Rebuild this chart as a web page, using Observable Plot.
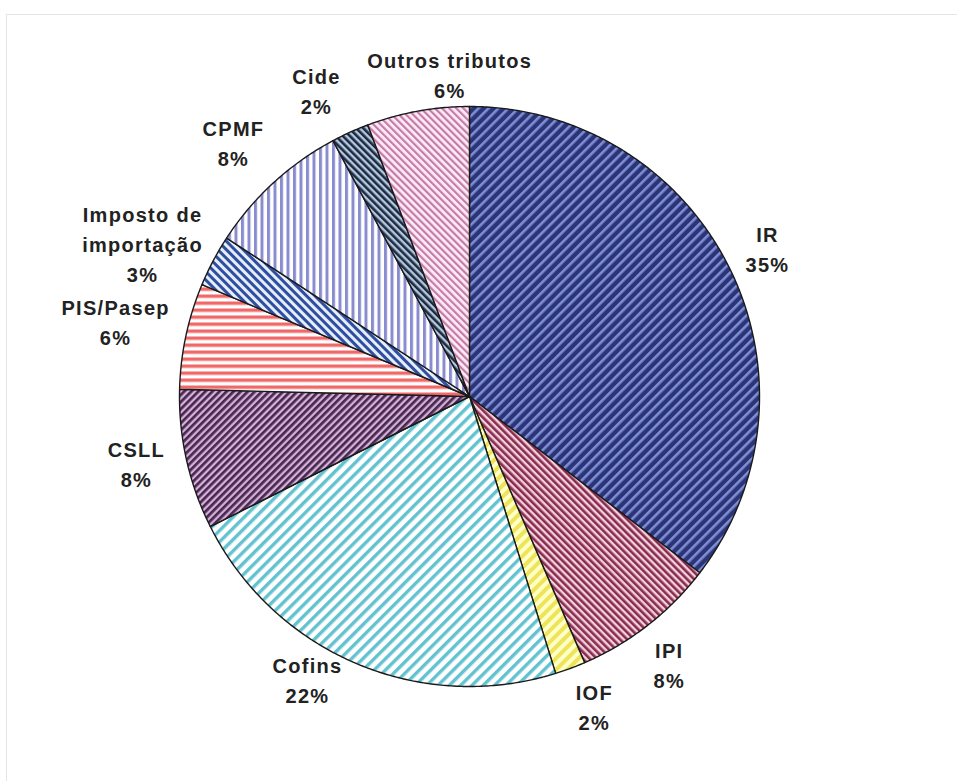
<!DOCTYPE html>
<html>
<head>
<meta charset="utf-8">
<script src="https://cdn.jsdelivr.net/npm/d3@7"></script>
<script src="https://cdn.jsdelivr.net/npm/@observablehq/plot@0.6"></script>
<style>
  html, body { margin: 0; padding: 0; background: #fff; }
  #wrap { position: relative; width: 957px; height: 781px; overflow: hidden; }
  #frame { position: absolute; left: 6px; top: 14px; right: 0; bottom: 0;
           border-top: 1px solid #e4e4e4; border-left: 1px solid #e4e4e4; pointer-events: none; }
</style>
</head>
<body>
<div id="wrap"><div id="frame"></div></div>
<script>
// ---- data (clockwise from 12 o'clock) ----
const names  = ["IR", "IPI", "IOF", "Cofins", "CSLL", "PIS/Pasep", "Imposto de importação", "CPMF", "Cide", "Outros tributos"];
const labels = ["IR", "IPI", "IOF", "Cofins", "CSLL", "PIS/Pasep", "Imposto de\nimportação", "CPMF", "Cide", "Outros tributos"];
const values = [35.4, 8.1, 1.7, 22.4, 7.8, 5.9, 2.9, 8.0, 2.1, 5.7];

// ---- styling: hatch patterns [base, stripe, period, stripeWidth, angle] ----
const patterns = [
  ["#2c3478", "#7f8fd4", 7, 2.6, 45],  // IR  "/"
  ["#f0d2de", "#8a2a4c", 5, 2.6, -45], // IPI "\"
  ["#ffffc8", "#eee45a", 8, 4, 45],    // IOF "/"
  ["#ffffff", "#62c2d0", 8, 3.4, 45],  // Cofins "/"
  ["#d6b0d8", "#46284f", 5, 2.7, 45],  // CSLL "/"
  ["#ffffff", "#f06868", 7, 3.4, 90],  // PIS horizontal
  ["#e6eefc", "#2f4f9e", 6, 3, -45],   // Importação "\"
  ["#ffffff", "#8a8cd0", 6.5, 3, 0],   // CPMF vertical
  ["#b4cadc", "#1e2a44", 5, 2.6, -45], // Cide "\"
  ["#fcecf6", "#c67aa8", 5, 2.2, -45]  // Outros "\"
];
// label placement: angle (deg clockwise from north) and radius (in pie radii)
const labelAngle  = [63.4, 143.2, 158.0, 209.9, 258.8, 282.1, 295.2, 317.2, 333.5, 356.5];
const labelRadius = [1.149, 1.150, 1.149, 1.121, 1.171, 1.248, 1.246, 1.198, 1.183, 1.116];

const W = 957, H = 781, R = 290, CX = 469, CY = 396;

const arcs = d3.pie().sort(null).value(d => d)(values);
const pts = [];
arcs.forEach((a, i) => {
  pts.push({name: names[i], x: 0, y: 0});
  const n = Math.max(2, Math.ceil((a.endAngle - a.startAngle) / (Math.PI / 360)));
  for (let k = 0; k <= n; k++) {
    const t = a.startAngle + (a.endAngle - a.startAngle) * k / n;
    pts.push({name: names[i], x: Math.sin(t), y: Math.cos(t)});
  }
  pts.push({name: names[i], x: 0, y: 0});
});

const labelData = values.map((v, i) => {
  const t = labelAngle[i] * Math.PI / 180;
  return {text: labels[i] + "\n" + d3.format(".0f")(v) + "%",
          x: labelRadius[i] * Math.sin(t), y: labelRadius[i] * Math.cos(t)};
});

const svg = Plot.plot({
  width: W, height: H,
  margin: 0,
  style: {background: "transparent", letterSpacing: "1.3px"},
  x: {domain: [-CX / R, (W - CX) / R], axis: null},
  y: {domain: [-(H - CY) / R, CY / R], axis: null},
  color: {type: "ordinal", domain: names, range: names.map((_, i) => `url(#pat${i})`)},
  marks: [
    Plot.line(pts, {x: "x", y: "y", z: "name", fill: "name", stroke: "#1a1a1a",
                    strokeWidth: 1.4, strokeLinejoin: "round", curve: "linear"}),
    Plot.text(labelData, {x: "x", y: "y", text: "text", lineAnchor: "middle",
                          lineHeight: 1.5, fontSize: 20, fontWeight: "bold",
                          fontFamily: "'Liberation Sans', Arial, sans-serif", fill: "#222"})
  ]
});

// hatch pattern defs
const ns = "http://www.w3.org/2000/svg";
const defs = document.createElementNS(ns, "defs");
patterns.forEach(([base, stripe, p, sw, ang], i) => {
  const pat = document.createElementNS(ns, "pattern");
  pat.setAttribute("id", "pat" + i);
  pat.setAttribute("patternUnits", "userSpaceOnUse");
  pat.setAttribute("width", p);
  pat.setAttribute("height", p);
  pat.setAttribute("patternTransform", `rotate(${ang})`);
  const r1 = document.createElementNS(ns, "rect");
  r1.setAttribute("width", p); r1.setAttribute("height", p); r1.setAttribute("fill", base);
  const r2 = document.createElementNS(ns, "rect");
  r2.setAttribute("width", sw); r2.setAttribute("height", p); r2.setAttribute("fill", stripe);
  pat.appendChild(r1); pat.appendChild(r2);
  defs.appendChild(pat);
});
svg.insertBefore(defs, svg.firstChild);

document.getElementById("wrap").insertBefore(svg, document.getElementById("frame"));
</script>
</body>
</html>
